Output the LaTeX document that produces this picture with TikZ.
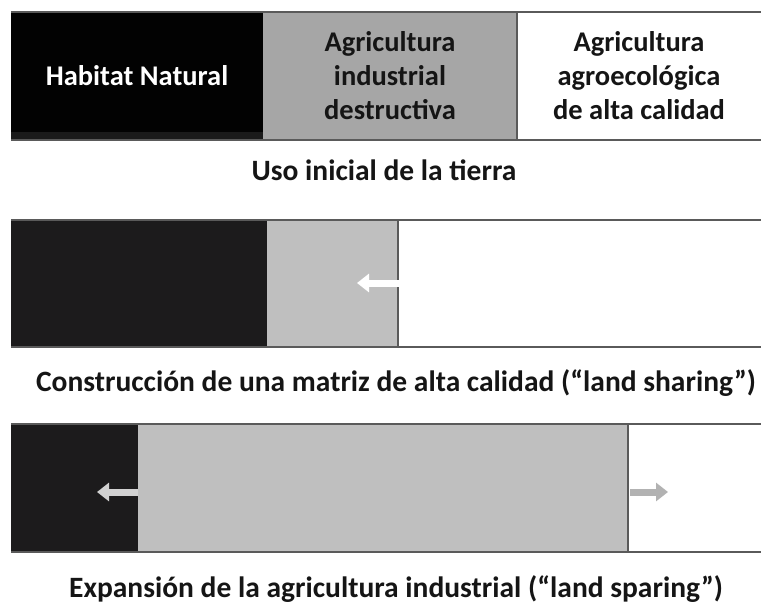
\documentclass[tikz,border=0pt]{standalone}
\usepackage{fontspec}
\setmainfont{Carlito}
\usetikzlibrary{arrows.meta}
\definecolor{blk}{HTML}{020202}
\definecolor{blk2}{HTML}{1C1B1C}
\definecolor{band}{HTML}{1A1A1A}
\definecolor{gryA}{HTML}{A6A6A6}
\definecolor{gryB}{HTML}{BFBFBF}
\definecolor{edge}{HTML}{5A5A5A}
\definecolor{txt}{HTML}{151515}
\begin{document}
\begin{tikzpicture}[x=1pt,y=-1pt,
  every node/.style={inner sep=0pt,outer sep=0pt},
  lbl/.style={font=\fontsize{28.5}{34}\selectfont\bfseries,align=center},
  captxt/.style={font=\fontsize{29.5}{34}\selectfont\bfseries,text=txt,anchor=base},
  fatarrow/.style={line width=7pt,-{Triangle[length=12pt,width=18pt]}}]
\useasboundingbox (0,0) rectangle (761,603);
\fill[white] (0,0) rectangle (761,603);
% top bar
\node[fill=blk,minimum width=252pt,minimum height=128pt,anchor=north west,lbl,text=white] (nat) at (11,12) {Habitat Natural};
\fill[band] ([yshift=8pt]nat.south west) rectangle (nat.south east);
\node[fill=gryA,minimum width=254pt,minimum height=128pt,anchor=north west,lbl,text=txt] (ind) at (263,12) {Agricultura\\industrial\\destructiva};
\node[fill=white,minimum width=244pt,minimum height=128pt,anchor=north west,lbl,text=txt] (agr) at (517,12) {Agricultura\\agroecológica\\de alta calidad};
\draw[edge,line width=1.5pt] (nat.north west) -- (agr.north east);
\draw[edge,line width=1.5pt] (nat.south west) -- (agr.south east);
\draw[edge,line width=1.5pt] (agr.north west) -- (agr.south west);
\node[captxt] (c1) at (384,180) {Uso inicial de la tierra};
% second bar
\node[fill=blk2,minimum width=256pt,minimum height=127pt,anchor=north west] (n2) at (11,220) {};
\node[fill=gryB,minimum width=131pt,minimum height=127pt,anchor=north west] (i2) at (267,220) {};
\node[fill=white,minimum width=363pt,minimum height=127pt,anchor=north west] (a2) at (398,220) {};
\draw[edge,line width=1.5pt] (n2.north west) -- (a2.north east);
\draw[edge,line width=1.5pt] (n2.south west) -- (a2.south east);
\draw[edge,line width=2pt] (a2.north west) -- (a2.south west);
\coordinate (s2) at (401,283);
\coordinate (e2) at (357,283);
\draw[fatarrow,white] (s2) -- (e2);
\node[captxt] (c2) at (396,391) {Construcción de una matriz de alta calidad (“land sharing”)};
% third bar
\node[fill=blk2,minimum width=127pt,minimum height=128pt,anchor=north west] (n3) at (11,424) {};
\node[fill=gryB,minimum width=490pt,minimum height=128pt,anchor=north west] (i3) at (138,424) {};
\node[fill=white,minimum width=133pt,minimum height=128pt,anchor=north west] (a3) at (628,424) {};
\draw[edge,line width=1.5pt] (n3.north west) -- (a3.north east);
\draw[edge,line width=1.5pt] (n3.south west) -- (a3.south east);
\draw[edge,line width=2pt] (a3.north west) -- (a3.south west);
\coordinate (s3l) at (138,492);
\coordinate (e3l) at (97,492);
\coordinate (s3r) at (630,492);
\coordinate (e3r) at (668,492);
\draw[fatarrow,black!18] (s3l) -- (e3l);
\draw[fatarrow,black!30] (s3r) -- (e3r);
\node[captxt] (c3) at (396,597) {Expansión de la agricultura industrial (“land sparing”)};
\end{tikzpicture}
\end{document}
